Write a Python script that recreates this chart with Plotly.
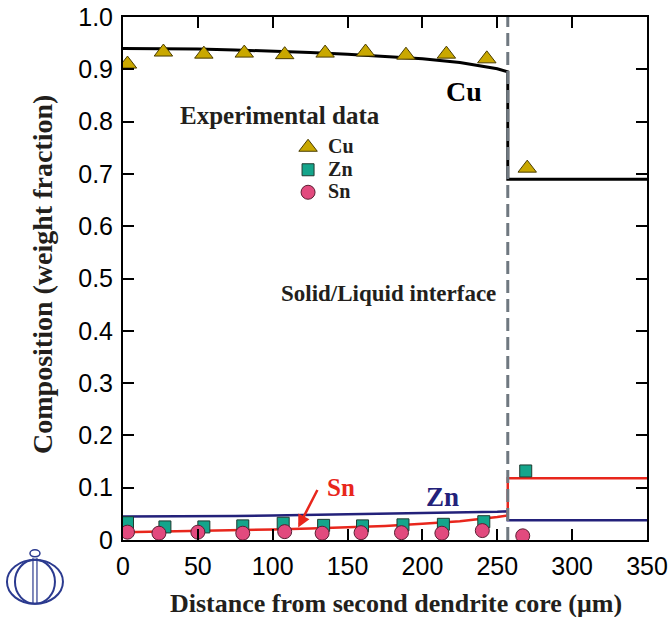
import plotly.graph_objects as go

# ---- experimental data (weight fraction) ----
cu_x = [3, 27, 54, 81, 108, 135, 162, 189, 216, 243, 270]
cu_y = [0.910, 0.933, 0.929, 0.931, 0.928, 0.931, 0.933, 0.927, 0.929, 0.920, 0.711]

zn_x = [3, 28, 54, 80, 107, 134, 160, 187, 214, 241, 269]
zn_y = [0.033, 0.025, 0.025, 0.027, 0.032, 0.028, 0.027, 0.029, 0.030, 0.035, 0.132]

sn_x = [3, 24, 50, 80, 108, 133, 159, 186, 213, 240, 267]
sn_y = [0.015, 0.013, 0.015, 0.013, 0.016, 0.013, 0.014, 0.014, 0.013, 0.018, 0.008]

# ---- calculated profiles (solid side up to the interface, then liquid) ----
interface_x = 257
calc_x = [0, 25, 50, 75, 100, 125, 150, 175, 200, 225, 250, 257, 257, 350]
cu_calc = [0.940, 0.940, 0.939, 0.937, 0.935, 0.932, 0.929, 0.925, 0.920, 0.913, 0.901, 0.895, 0.690, 0.690]
zn_calc = [0.045, 0.045, 0.046, 0.046, 0.047, 0.048, 0.049, 0.050, 0.051, 0.052, 0.054, 0.055, 0.038, 0.038]
sn_calc = [0.015, 0.016, 0.017, 0.018, 0.020, 0.022, 0.024, 0.027, 0.031, 0.036, 0.044, 0.047, 0.118, 0.118]

x_ticks = [0, 50, 100, 150, 200, 250, 300, 350]
y_ticks = [0, 0.1, 0.2, 0.3, 0.4, 0.5, 0.6, 0.7, 0.8, 0.9, 1.0]
y_ticktext = ["0", "0.1", "0.2", "0.3", "0.4", "0.5", "0.6", "0.7", "0.8", "0.9", "1.0"]

SERIF = "Liberation Serif, Times New Roman, serif"
SANS = "Liberation Sans, Arial, sans-serif"
NAVY = "#23217a"
RED = "#e8261c"
INK = "#231f1c"


def legend_name(label):
    return f"<span style='font-size:20px'><b>{label}</b></span>"


def label(x, y, text, size, color=INK, **kw):
    return dict(x=x, y=y, xref="paper", yref="paper", xanchor="center", yanchor="middle",
                text=text, showarrow=False, font=dict(family=SERIF, size=size, color=color), **kw)


fig = go.Figure()

fig.add_trace(go.Scatter(x=calc_x, y=cu_calc, mode="lines", line=dict(color="black", width=3), showlegend=False))
fig.add_trace(go.Scatter(x=calc_x, y=zn_calc, mode="lines", line=dict(color=NAVY, width=2.5), showlegend=False))
fig.add_trace(go.Scatter(x=calc_x, y=sn_calc, mode="lines", line=dict(color=RED, width=2.5), showlegend=False))

fig.add_trace(go.Scatter(
    x=cu_x, y=cu_y, mode="markers", name=legend_name("Cu"),
    marker=dict(symbol="triangle-up", size=16, color="#c9a800", line=dict(color="#4a3c00", width=1)),
))
fig.add_trace(go.Scatter(
    x=zn_x, y=zn_y, mode="markers", name=legend_name("Zn"),
    marker=dict(symbol="square", size=12, color="#14a58b", line=dict(color="#1f3a30", width=1)),
))
fig.add_trace(go.Scatter(
    x=sn_x, y=sn_y, mode="markers", name=legend_name("Sn"),
    marker=dict(symbol="circle", size=14, color="#e24a7e", line=dict(color="#5a1f33", width=1)),
))

# solid/liquid interface
fig.add_shape(type="line", xref="x", yref="paper", x0=interface_x, x1=interface_x, y0=0, y1=1,
              line=dict(color="#6f7880", width=3, dash="13px,6px"), layer="above")

annotations = [
    label(0.300, 0.811, "<b>Experimental data</b>", 25),
    label(0.506, 0.472, "<b>Solid/Liquid interface</b>", 23),
    label(0.651, 0.857, "<b>Cu</b>", 28, "black"),
    label(0.609, 0.082, "<b>Zn</b>", 27, NAVY),
    label(0.416, 0.101, "<b>Sn</b>", 25, RED),
    dict(x=117, y=0.024, xref="x", yref="y", text="", showarrow=True,
         ax=20, ay=-39, arrowcolor=RED, arrowwidth=2.5, arrowhead=2, arrowsize=1),
    # axis titles
    label(0.521, -0.1205, "<b>Distance from second dendrite core (μm)</b>", 26),
    label(-0.1546, 0.5086, "<b>Composition (weight fraction)</b>", 28, textangle=-90),
]

# publisher emblem in the lower-left corner
emb_x, emb_y = -0.168, -0.080
emblem = []
for rx, ry in [(28, 22), (20, 22)]:
    emblem.append(dict(type="circle", xref="paper", yref="paper", xsizemode="pixel", ysizemode="pixel",
                       xanchor=emb_x, yanchor=emb_y, x0=-rx, x1=rx, y0=-ry, y1=ry,
                       line=dict(color="#2b3a8f", width=2)))
for dx in (-2, 2):
    emblem.append(dict(type="line", xref="paper", yref="paper", xsizemode="pixel", ysizemode="pixel",
                       xanchor=emb_x, yanchor=emb_y, x0=dx, x1=dx, y0=-22, y1=24,
                       line=dict(color="#2b3a8f", width=1.2)))
emblem.append(dict(type="circle", xref="paper", yref="paper", xsizemode="pixel", ysizemode="pixel",
                   xanchor=emb_x, yanchor=emb_y, x0=-5, x1=5, y0=25, y1=32,
                   line=dict(color="#2b3a8f", width=1.5)))
for s in emblem:
    fig.add_shape(**s)

axis_common = dict(
    showline=True, linecolor="black", linewidth=2, mirror="ticks",
    ticks="inside", ticklen=11, tickwidth=1.5, tickcolor="black",
    showgrid=False, zeroline=False, automargin=False,
    tickfont=dict(family=SANS, size=25, color="black"),
)

fig.update_layout(
    width=670, height=617,
    margin=dict(l=123, r=23, t=17, b=77),
    paper_bgcolor="white", plot_bgcolor="white",
    xaxis=dict(range=[0, 350], tickvals=x_ticks, ticklabelstandoff=3, **axis_common),
    yaxis=dict(range=[0, 1.0], tickvals=y_ticks, ticktext=y_ticktext, ticklabelstandoff=3, **axis_common),
    showlegend=True,
    legend=dict(x=0.315, y=0.782, xanchor="left", yanchor="top", bgcolor="rgba(0,0,0,0)",
                font=dict(family=SERIF, size=15, color=INK), tracegroupgap=0, itemwidth=30),
    annotations=annotations,
)

fig.write_html("out.html")
